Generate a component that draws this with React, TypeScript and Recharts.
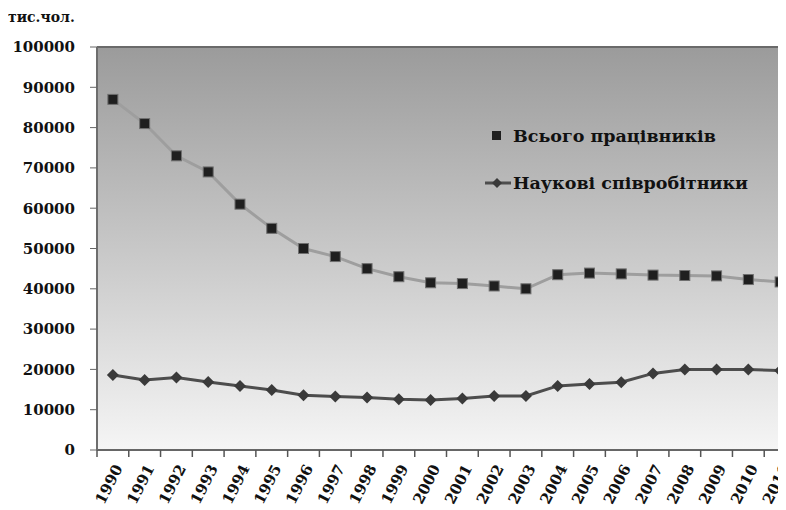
import React from "react";
import {
  LineChart,
  Line,
  XAxis,
  YAxis,
  CartesianGrid,
  ReferenceLine,
} from "recharts";

const years = [
  "1990", "1991", "1992", "1993", "1994", "1995", "1996", "1997", "1998", "1999", "2000",
  "2001", "2002", "2003", "2004", "2005", "2006", "2007", "2008", "2009", "2010", "2011",
];
const totalStaff = [
  87000, 81000, 73000, 69000, 61000, 55000, 50000, 48000, 45000, 43000, 41500,
  41300, 40700, 40000, 43500, 43900, 43700, 43400, 43300, 43200, 42300, 41700,
];
const researchers = [
  18600, 17400, 18000, 16900, 15900, 14900, 13600, 13300, 13000, 12600, 12400,
  12800, 13400, 13400, 15900, 16400, 16800, 19000, 20000, 20000, 20000, 19700,
];
const yTicks = [0, 10000, 20000, 30000, 40000, 50000, 60000, 70000, 80000, 90000, 100000];

const data = years.map((year, i) => ({
  year,
  total: totalStaff[i],
  sci: researchers[i],
}));

const FONT = "'DejaVu Serif', serif";
const CHART_W = 788;
const AXIS_W = 89;
const BAND = (CHART_W - AXIS_W) / years.length;

const SquareDot = (props: any) => {
  const { cx, cy } = props;
  if (cx == null || cy == null) return null;
  return (
    <rect x={cx - 5} y={cy - 5} width={10} height={10} fill="#1f1f1f" stroke="#6f6f6f" strokeWidth={1} />
  );
};

const DiamondDot = (props: any) => {
  const { cx, cy } = props;
  if (cx == null || cy == null) return null;
  return (
    <polygon
      points={`${cx},${cy - 6} ${cx + 6},${cy} ${cx},${cy + 6} ${cx - 6},${cy}`}
      fill="#3a3a3a"
    />
  );
};

const YearTick = (props: any) => {
  const { x, y, payload } = props;
  const ax = x + 10;
  const ay = y + 18;
  return (
    <g>
      <line x1={x - BAND / 2} x2={x - BAND / 2} y1={y} y2={y + 7} stroke="#555" strokeWidth={1.5} />
      <text
        x={ax}
        y={ay}
        transform={`rotate(-63 ${ax} ${ay})`}
        textAnchor="end"
        fontFamily={FONT}
        fontWeight="bold"
        fontSize={15}
        fill="#111"
      >
        {payload.value}
      </text>
    </g>
  );
};

const legendText: React.CSSProperties = {
  fontFamily: FONT,
  fontWeight: "bold",
  fontSize: 17.5,
  color: "#111",
  whiteSpace: "nowrap",
};

export default function App() {
  return (
    <div style={{ position: "relative", width: 778, height: 502, overflow: "hidden" }}>
      <div
        style={{
          position: "absolute",
          left: 0,
          top: 1,
          fontFamily: FONT,
          fontWeight: "bold",
          fontSize: 14,
          color: "#111",
        }}
      >
        тис.чол.
      </div>
      <LineChart
        width={CHART_W}
        height={502}
        data={data}
        margin={{ top: 39, right: 0, bottom: 0, left: 0 }}
      >
        <defs>
          <linearGradient id="plotBg" x1="0" y1="0" x2="0" y2="1">
            <stop offset="0%" stopColor="#9b9b9b" />
            <stop offset="45%" stopColor="#c3c3c3" />
            <stop offset="100%" stopColor="#f5f5f5" />
          </linearGradient>
        </defs>
        <CartesianGrid horizontal={false} vertical={false} fill="url(#plotBg)" fillOpacity={1} />
        <XAxis
          dataKey="year"
          interval={0}
          height={502 - 39 - 403}
          padding={{ left: BAND / 2, right: BAND / 2 }}
          tickLine={false}
          tickSize={0}
          tickMargin={0}
          axisLine={{ stroke: "#666", strokeWidth: 2 }}
          tick={<YearTick />}
        />
        <YAxis
          width={AXIS_W}
          domain={[0, 100000]}
          ticks={yTicks}
          interval={0}
          tickSize={7}
          tickMargin={15}
          tickLine={{ stroke: "#666" }}
          axisLine={{ stroke: "#6d6d6d", strokeWidth: 2 }}
          tick={{ fontFamily: FONT, fontWeight: "bold", fontSize: 15, fill: "#111" }}
        />
        <ReferenceLine y={100000} stroke="#6a6a6a" strokeWidth={2} />
        <Line
          dataKey="total"
          stroke="#9e9e9e"
          strokeWidth={3}
          dot={<SquareDot />}
          activeDot={false}
          isAnimationActive={false}
        />
        <Line
          dataKey="sci"
          stroke="#4d4d4d"
          strokeWidth={3}
          dot={<DiamondDot />}
          activeDot={false}
          isAnimationActive={false}
        />
      </LineChart>
      <div style={{ position: "absolute", left: 475, top: 116, ...legendText }}>
        <div style={{ display: "flex", alignItems: "center", height: 24 }}>
          <svg width={30} height={20}>
            <rect x={9} y={5} width={9} height={9} fill="#1f1f1f" />
          </svg>
          <span>Всього працівників</span>
        </div>
        <div style={{ display: "flex", alignItems: "center", height: 24, marginTop: 23 }}>
          <svg width={30} height={20}>
            <line x1={2} x2={28} y1={10} y2={10} stroke="#4d4d4d" strokeWidth={3} />
            <polygon points="14,5 19,10 14,15 9,10" fill="#3a3a3a" />
          </svg>
          <span>Наукові співробітники</span>
        </div>
      </div>
    </div>
  );
}
